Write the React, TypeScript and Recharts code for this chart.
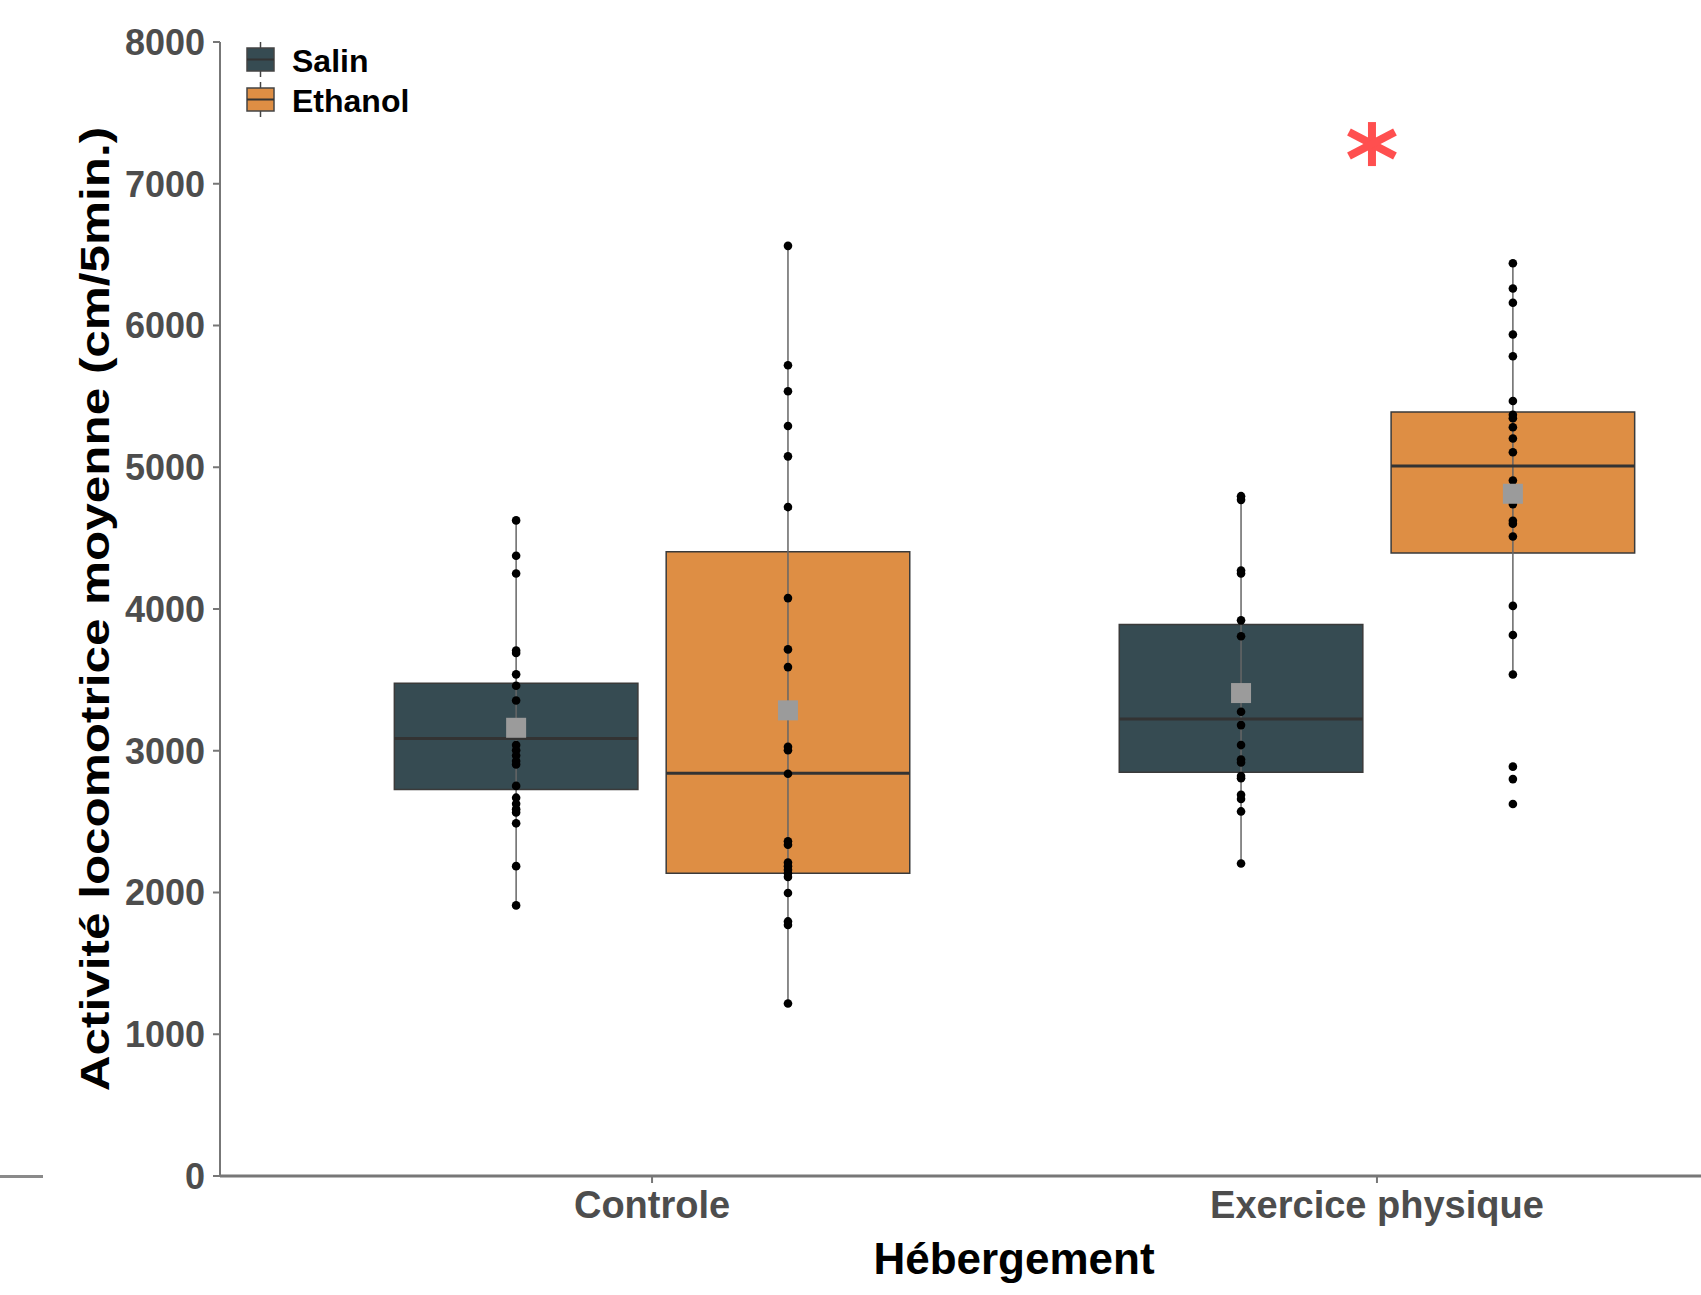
import React from 'react'
import {
  Label,
  ReferenceArea,
  ReferenceLine,
  Scatter,
  ScatterChart,
  XAxis,
  YAxis,
} from 'recharts'

const categories = ['Controle', 'Exercice physique']
const groups = ['Salin', 'Ethanol']
const yTicks = [0, 1000, 2000, 3000, 4000, 5000, 6000, 7000, 8000]

// individual animals (cm / 5 min)
const salinControle = [
  4625, 4376, 4250, 3707, 3690, 3539, 3459, 3355, 3041, 3003, 2966, 2928,
  2903, 2752, 2669, 2626, 2588, 2564, 2488, 2186, 1909,
]
const ethanolControle = [
  6562, 5720, 5536, 5291, 5077, 4719, 4077, 3715, 3590, 3028, 3003, 2838,
  2362, 2337, 2211, 2186, 2161, 2136, 2110, 1997, 1796, 1771, 1217,
]
const salinExercice = [
  4796, 4770, 4271, 4250, 3920, 3808, 3275, 3181, 3040, 2938, 2917, 2821,
  2806, 2689, 2660, 2572, 2205,
]
const ethanolExercice = [
  6439, 6261, 6161, 5936, 5783, 5467, 5370, 5346, 5282, 5203, 5106, 4907,
  4740, 4623, 4602, 4511, 4022, 3817, 3538, 2888, 2800, 2624,
]

// box summaries, order: Salin/Controle, Ethanol/Controle, Salin/Exercice, Ethanol/Exercice
const q1 = [2726, 2136, 2848, 4395]
const medians = [3086, 2841, 3224, 5008]
const q3 = [3476, 4403, 3890, 5390]
const whiskerLow = [1909, 1217, 2205, 3538]
const whiskerHigh = [4625, 6562, 4796, 6439]
const means = [3162, 3285, 3407, 4813]

// significance mark over Exercice physique
const starY = 7280

const colors = ['#364b52', '#de8e44']
const FONT = '"Liberation Sans", Arial, sans-serif'
const DODGE = 0.1875
const HALF = 0.168

const pointSets = [salinControle, ethanolControle, salinExercice, ethanolExercice]
const boxes = [
  { cat: 1, group: 0 },
  { cat: 1, group: 1 },
  { cat: 2, group: 0 },
  { cat: 2, group: 1 },
].map((b, i) => {
  const x = b.cat + (b.group ? DODGE : -DODGE)
  return {
    ...b,
    x,
    q1: q1[i],
    median: medians[i],
    q3: q3[i],
    low: whiskerLow[i],
    high: whiskerHigh[i],
    points: pointSets[i].map((y) => ({ x, y })),
  }
})
const meanPoints = boxes.map((b, i) => ({ x: b.x, y: means[i] }))
const starPoint = [{ x: 2, y: starY }]

const Dot = (props: any) => (
  <circle cx={props.cx} cy={props.cy} r={4.3} fill='#000' />
)

const MeanSquare = (props: any) => (
  <rect x={props.cx - 10} y={props.cy - 10} width={20} height={20} fill='#9b9b9b' />
)

const Star = (props: any) => {
  const cx = props.cx - 5
  const cy = props.cy
  return (
    <g stroke='#ff4f4f' strokeWidth={8}>
      <line x1={cx} y1={cy - 22} x2={cx} y2={cy + 22} />
      <line x1={cx - 23} y1={cy - 12} x2={cx + 23} y2={cy + 12} />
      <line x1={cx - 23} y1={cy + 12} x2={cx + 23} y2={cy - 12} />
    </g>
  )
}

function LegendKey({ y, fill }: { y: number; fill: string }) {
  return (
    <g>
      <line x1={260.5} x2={260.5} y1={y - 6} y2={y + 29} stroke='#444' strokeWidth={1.5} />
      <rect x={247} y={y} width={27} height={23} fill={fill} stroke='#444' strokeWidth={1.5} />
      <line x1={247} x2={274} y1={y + 11.5} y2={y + 11.5} stroke='#333' strokeWidth={2} />
    </g>
  )
}

export default function App() {
  return (
    <div style={{ position: 'absolute', left: 0, top: 0, width: 1701, height: 1295, background: '#fff' }}>
      <ScatterChart width={1701} height={1295} margin={{ top: 42, right: 0, bottom: 0, left: 0 }}>
        <XAxis
          type='number'
          dataKey='x'
          domain={[0.404, 2.447]}
          allowDataOverflow
          ticks={[1, 2]}
          interval={0}
          tickFormatter={(v) => categories[Math.round(v) - 1]}
          height={119}
          tickSize={7}
          tickMargin={8}
          axisLine={{ stroke: '#777', strokeWidth: 3 }}
          tickLine={{ stroke: '#777', strokeWidth: 2 }}
          tick={{ fill: '#4d4d4d', fontSize: 38, fontWeight: 700, fontFamily: FONT }}
        >
          <Label
            content={() => (
              <text
                x={1014}
                y={1258}
                textAnchor='middle'
                dominantBaseline='central'
                fontSize={44}
                fontWeight={700}
                fontFamily={FONT}
                fill='#000'
              >
                Hébergement
              </text>
            )}
          />
        </XAxis>
        <YAxis
          type='number'
          dataKey='y'
          domain={[0, 8000]}
          ticks={yTicks}
          interval={0}
          width={220}
          tickSize={7}
          tickMargin={8}
          axisLine={{ stroke: '#777', strokeWidth: 2 }}
          tickLine={{ stroke: '#777', strokeWidth: 2 }}
          tick={{ fill: '#4d4d4d', fontSize: 36, fontWeight: 700, fontFamily: FONT }}
        >
          <Label
            content={(p: any) => {
              const cy = p.viewBox.y + p.viewBox.height / 2
              return (
                <text
                  x={0}
                  y={0}
                  transform={`translate(95 ${cy}) rotate(-90) scale(1.075 0.9)`}
                  textAnchor='middle'
                  dominantBaseline='central'
                  fontSize={46}
                  fontWeight={700}
                  fontFamily={FONT}
                  fill='#000'
                >
                  Activité locomotrice moyenne (cm/5min.)
                </text>
              )
            }}
          />
        </YAxis>

        {boxes.map((b, i) => (
          <ReferenceLine
            key={`w${i}`}
            segment={[
              { x: b.x, y: b.low },
              { x: b.x, y: b.high },
            ]}
            stroke='#666'
            strokeWidth={1.5}
          />
        ))}
        {boxes.map((b, i) => (
          <ReferenceArea
            key={`b${i}`}
            x1={b.x - HALF}
            x2={b.x + HALF}
            y1={b.q1}
            y2={b.q3}
            fill={colors[b.group]}
            fillOpacity={1}
            stroke='#3a3a3a'
            strokeWidth={1.5}
          />
        ))}
        {boxes.map((b, i) => (
          <ReferenceLine
            key={`m${i}`}
            segment={[
              { x: b.x - HALF, y: b.median },
              { x: b.x + HALF, y: b.median },
            ]}
            stroke='#333'
            strokeWidth={3}
          />
        ))}

        {boxes.map((b, i) => (
          <Scatter
            key={`p${i}`}
            name={`${groups[b.group]} ${categories[b.cat - 1]}`}
            data={b.points}
            shape={Dot}
            isAnimationActive={false}
          />
        ))}
        <Scatter data={meanPoints} shape={MeanSquare} isAnimationActive={false} />
        <Scatter data={starPoint} shape={Star} isAnimationActive={false} />
      </ScatterChart>

      <svg width={420} height={130} style={{ position: 'absolute', left: 0, top: 0 }}>
        <LegendKey y={48} fill={colors[0]} />
        <LegendKey y={88} fill={colors[1]} />
        <text x={292} y={72} fontSize={32} fontWeight={700} fontFamily={FONT} fill='#000'>
          {groups[0]}
        </text>
        <text x={292} y={112} fontSize={32} fontWeight={700} fontFamily={FONT} fill='#000'>
          {groups[1]}
        </text>
      </svg>
      <div style={{ position: 'absolute', left: 0, top: 1175, width: 43, height: 3, background: '#8a8a8a' }} />
    </div>
  )
}
